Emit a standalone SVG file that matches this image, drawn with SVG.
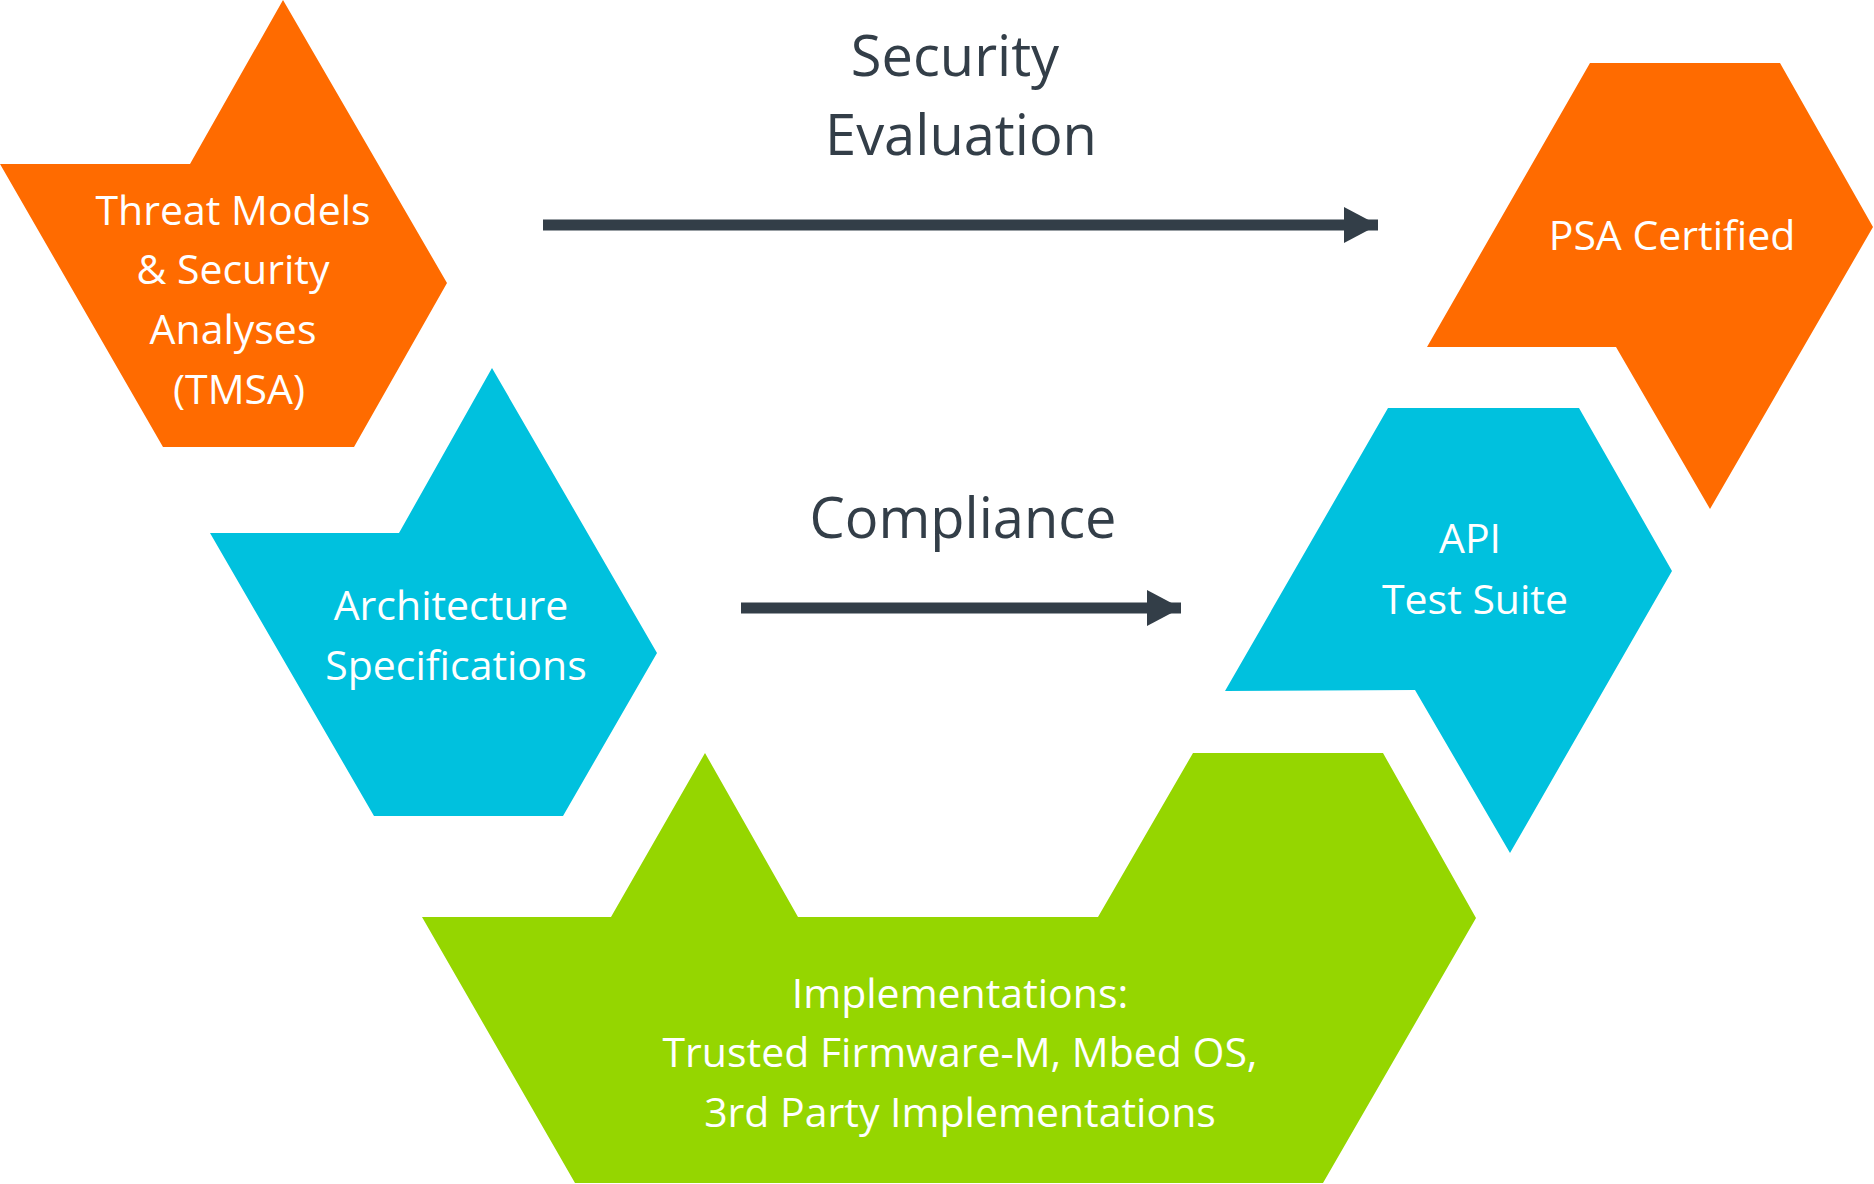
<svg xmlns="http://www.w3.org/2000/svg" width="1874" height="1184" viewBox="0 0 1874 1184">
<style>
.o{fill:#FF6B00}.b{fill:#00C1DE}.g{fill:#95D600}
.t{font-family:"Open Sans","Liberation Sans",sans-serif;font-size:41px;fill:#fff;text-anchor:middle}
.h{font-family:"Open Sans","Liberation Sans",sans-serif;font-size:56px;fill:#333E48;text-anchor:middle}
.a{stroke:#333E48;stroke-width:11;fill:none}
</style>
<defs><marker id="m" markerUnits="userSpaceOnUse" markerWidth="40" markerHeight="40" refX="34" refY="18" orient="auto"><path d="M0,0 L34,18 L0,36 Z" fill="#333E48"/></marker></defs>
<rect width="1874" height="1184" fill="#fff"/>
<g id="tmsa"><polygon class="o" points="283,0 447,283 354,447 163,447 0,164 190,164"/>
<text class="t" x="233" y="225">Threat Models</text><text class="t" x="233" y="284">&amp; Security</text><text class="t" x="233" y="344">Analyses</text><text class="t" x="239" y="404">(TMSA)</text></g>
<g id="arch"><polygon class="b" points="492,368 657,653 563,816 374,816 210,533 399,533"/>
<text class="t" x="451" y="620">Architecture</text><text class="t" x="456" y="680">Specifications</text></g>
<g id="impl"><polygon class="g" points="705,753 798,917 1098,917 1193,753 1383,753 1476,918 1323,1183 575,1183 422,917 611,917"/>
<text class="t" x="960" y="1008">Implementations:</text><text class="t" x="960" y="1067">Trusted Firmware-M, Mbed OS,</text><text class="t" x="960" y="1127">3rd Party Implementations</text></g>
<g id="api"><polygon class="b" points="1388,408 1579,408 1672,571 1510,853 1415,690 1225,691"/>
<text class="t" x="1470" y="553">API</text><text class="t" x="1475" y="614">Test Suite</text></g>
<g id="psa"><polygon class="o" points="1590,63 1780,63 1873,227 1710,509 1616,347 1427,347"/>
<text class="t" x="1672" y="250">PSA Certified</text></g>
<g id="connectors">
<line class="a" x1="543" y1="225" x2="1378" y2="225" marker-end="url(#m)"/>
<line class="a" x1="741" y1="608" x2="1181" y2="608" marker-end="url(#m)"/>
</g>
<text class="h" x="955" y="76">Security</text><text class="h" x="961" y="155">Evaluation</text>
<text class="h" x="963" y="538">Compliance</text>
</svg>
